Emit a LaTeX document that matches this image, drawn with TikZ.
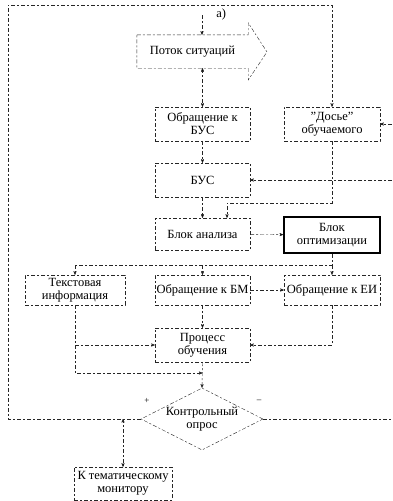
\documentclass[tikz,border=0pt]{standalone}
\usepackage{fontspec}
\setmainfont{Liberation Serif}
\usepackage{tikz}
\usetikzlibrary{arrows,shapes.geometric}

\begin{document}
\begin{tikzpicture}[x=1pt,y=-1pt,->,>=stealth',semithick,
		font=\fontsize{12.5}{13}\selectfont]
		\tikzset{dline/.style={draw=black!85,thin,dash pattern=on 4pt off 2pt on 2pt off 2pt}}
		\tikzstyle{blok}=[rectangle,dline,inner sep=1pt,align=center,minimum width=95pt,minimum height=34pt]
		\useasboundingbox (0,0) rectangle (392,501);
		
		% bloki
		\node[blok,draw=none,minimum width=111pt,minimum height=33pt] (potok) at (192.5,51.5) {Поток ситуаций};
		\node[blok] (obrbus) at (202.5,124) {Обращение к\\БУС};
		\node[blok,minimum width=96pt] (dosie) at (332,124) {"Досье"\\обучаемого};
		\node[blok] (bus) at (202.5,180) {БУС};
		\node[blok,minimum height=32pt] (analiz) at (202.5,234) {Блок анализа};
		\node[blok,solid,draw=black,line width=1.6pt,minimum width=96pt,minimum height=36pt] (optim) at (332,235) {Блок\\оптимизации};
		\node[blok,minimum width=100pt,minimum height=30pt] (tekst) at (75,290) {Текстовая\\информация};
		\node[blok,minimum height=30pt] (obrbm) at (202.5,290) {Обращение к БМ};
		\node[blok,minimum width=96pt,minimum height=30pt] (obrei) at (332,290) {Обращение к ЕИ};
		\node[blok] (process) at (202.5,345) {Процесс\\обучения};
		\node[diamond,dline,aspect=2,inner sep=0pt,minimum width=122pt,minimum height=62pt,align=center] (kontrol) at (202,419) {Контрольный\\опрос};
		\node[blok,minimum width=98pt,minimum height=33pt] (monitor) at (123,483.5) {К тематическому\\монитору};
		
		% metki
		\node[anchor=west,inner sep=0pt] (a) at (216,14) {а)};
		\node (plus) at (147,401) {\small +};
		\node (minus) at (259,401) {\small --};
		
		% kontur potoka
		\draw[dline,-] (potok.north west) -- (potok.north east) -- ++(0,-12) -- (267,52)
			-- (potok.south east |- 0,80) -- (potok.south east) -- (potok.south west) -- cycle;
		
		\coordinate (vhod) at (202,15);
		\coordinate (lt) at (8,5);
		\coordinate (lb) at (8,419);
		\coordinate (rt) at (332,5);
		\coordinate (kraj1) at (392,124);
		\coordinate (kraj2) at (392,180);
		\coordinate (kraj3) at (392,419);
		\coordinate (dos1) at (332,203);
		\coordinate (dos2) at (227,203);
		\coordinate (opt1) at (332,265);
		\coordinate (tek1) at (75,265);
		\coordinate (tek2) at (75,345);
		\coordinate (tek3) at (75,373);
		\coordinate (pro1) at (202.5,373);
		\coordinate (mon1) at (123,419);
		
		\path[dline]
		(vhod) edge (vhod |- potok.north)
		(obrbus.north |- potok.south) edge[<->] (obrbus.north)
		(obrbus) edge (bus)
		(bus) edge (analiz)
		(analiz) edge (optim)
		(obrbm) edge (obrei)
		(obrbm) edge (process)
		(kraj1) edge (dosie.east)
		(kraj2) edge (bus.east)
		(mon1) edge (monitor);
		
		% obratnye svyazi
		\draw[dline] (kontrol.west) -- (lb) -- (lt) -- (rt) -- (dosie.north);
		\draw[dline,-] (kontrol.east) -- (kraj3);
		\draw[dline] (dosie.south) -- (dos1) -- (dos2) -- (dos2 |- analiz.north);
		
		% ot bloka optimizacii
		\draw[dline,-] (optim.south) -- (opt1) -- (tek1);
		\draw[dline] (tek1) -- (tekst.north);
		\draw[dline] (obrbm.north |- opt1) -- (obrbm.north);
		\draw[dline] (opt1) -- (obrei.north);
		
		% k processu obucheniya
		\draw[dline] (tekst.south) -- (tek2) -- (process.west);
		\draw[dline] (obrei.south) -- (obrei.south |- tek2) -- (process.east);
		\draw[dline] (tek2) -- (tek3) -- (pro1);
		\draw[dline] (process.south) -- (kontrol.north);
\end{tikzpicture}
\end{document}
